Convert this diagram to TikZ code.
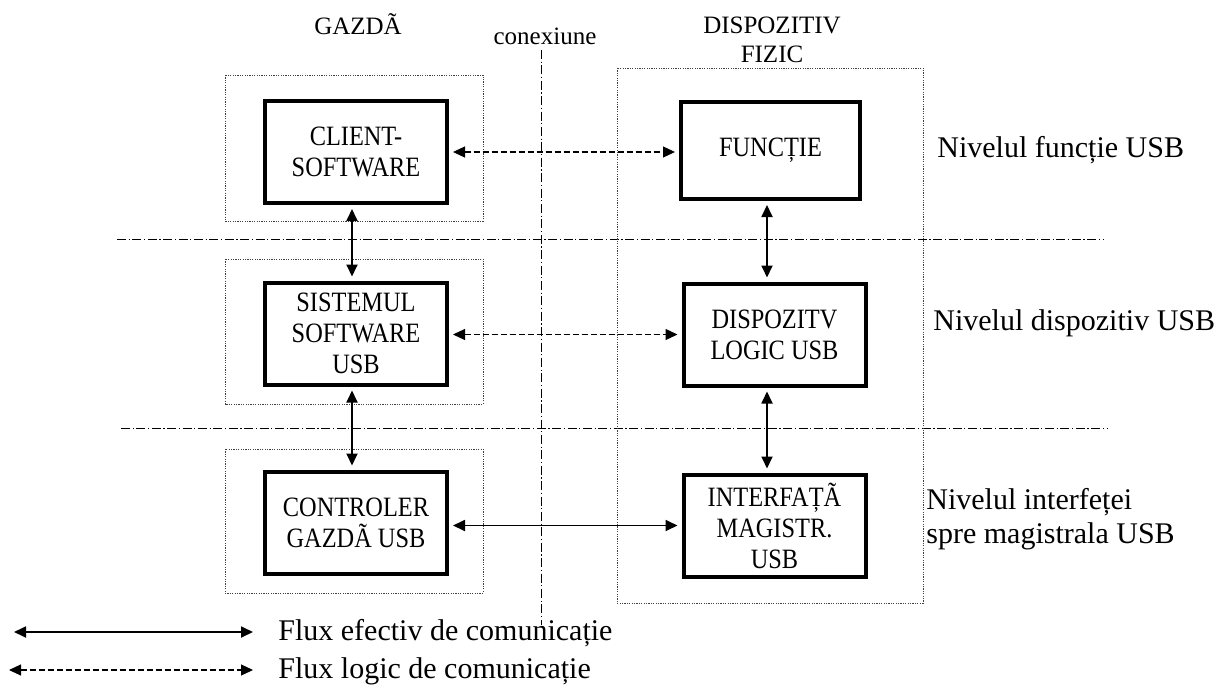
\documentclass[tikz,border=0pt]{standalone}
\usepackage{fontspec}
\setmainfont{Liberation Serif}
\newfontfamily\blokfont[FakeStretch=0.87]{Liberation Serif}
\usetikzlibrary{arrows.meta}

\begin{document}
\begin{tikzpicture}[x=0.5pt,y=-0.5pt,>={Triangle[length=6pt,width=5.5pt]},
    blok/.style={draw=black,line width=2pt,align=center,inner sep=0pt,
        minimum width=91pt,minimum height=51pt,font=\blokfont\fontsize{14}{15.5}\selectfont},
    cadru/.style={draw=black!75,line width=0.5pt,dash pattern=on 0.6pt off 0.6pt},
    nivel/.style={line width=0.5pt,dash pattern=on 4.5pt off 1.3pt on 0.6pt off 1.3pt},
    fluxfizic/.style={<->,line width=0.9pt,shorten >=2pt,shorten <=2pt},
    fluxlogic/.style={<->,line width=0.6pt,dash pattern=on 3pt off 1.5pt,shorten >=2pt,shorten <=2pt},
    antet/.style={font=\fontsize{12.5}{14.5}\selectfont,align=center,inner sep=0pt},
    eticheta/.style={font=\fontsize{15}{17}\selectfont,align=left,inner sep=0pt}]

    \useasboundingbox (0,0) rectangle (1217,691);

    % Level separators and connection line
    \draw[nivel] (117,239) -- (1103,239);
    \draw[nivel] (121,428) -- (1107,428);
    \draw[nivel] (541,50) -- (541,625);

    % Dotted frames
    \draw[cadru] (225,75) rectangle (483,221);
    \draw[cadru] (225,259) rectangle (483,404);
    \draw[cadru] (225,449) rectangle (483,593);
    \draw[cadru] (617,68) rectangle (923,603);

    % Headers
    \node[antet,anchor=base] (GAZDA) at (358,34) {GAZDÃ};
    \node[antet,anchor=base] (CONEX) at (545,44) {conexiune};
    \node[antet,anchor=north] (DISPFIZ) at (772,17) {DISPOZITIV\\FIZIC};

    % Host column
    \node[blok] (CLIENT) at (356,152) {CLIENT-\\SOFTWARE};
    \node[blok] (SISTEMUL) at (356,333.5) {SISTEMUL\\SOFTWARE\\USB};
    \node[blok] (CONTROLER) at (356,522.5) {CONTROLER\\GAZDÃ USB};

    % Device column
    \node[blok,minimum width=89.5pt,minimum height=48.5pt] (FUNCTIE) at (770.5,150.5) {FUNCȚIE};
    \node[blok] (DISPOZ) at (774.5,334.5) {DISPOZITV\\LOGIC USB};
    \node[blok] (INTERF) at (774.5,525.5) {INTERFAȚÃ\\MAGISTR.\\USB};

    % Level labels
    \node[eticheta,anchor=base west] (NIVF) at (937,157) {Nivelul funcție USB};
    \node[eticheta,anchor=base west] (NIVD) at (933,330) {Nivelul dispozitiv USB};
    \node[eticheta,anchor=north west] (NIVI) at (926,488) {Nivelul interfeței\\spre magistrala USB};

    % Logical flows
    \draw[fluxlogic] (CLIENT.east) -- (CLIENT.east -| FUNCTIE.west);
    \draw[fluxlogic] (DISPOZ.west -| SISTEMUL.east) -- (DISPOZ.west);

    % Effective flows
    \draw[fluxfizic] (INTERF.west -| CONTROLER.east) -- (INTERF.west);
    \draw[fluxfizic] ([xshift=-2pt]CLIENT.south) -- ([xshift=-2pt]SISTEMUL.north);
    \draw[fluxfizic] ([xshift=-2pt]SISTEMUL.south) -- ([xshift=-2pt]CONTROLER.north);
    \draw[fluxfizic] ([xshift=-1.75pt]FUNCTIE.south) -- ([xshift=-1.75pt]FUNCTIE.south |- DISPOZ.north);
    \draw[fluxfizic] ([xshift=-3.75pt]DISPOZ.south) -- ([xshift=-3.75pt]INTERF.north);

    % Legend
    \coordinate (EF1) at (10,632);
    \coordinate (EF2) at (257,632);
    \draw[fluxfizic] (EF1) -- (EF2);
    \node[eticheta,anchor=base west] (EFTXT) at (278,640) {Flux efectiv de comunicație};
    \coordinate (LG1) at (5,670);
    \coordinate (LG2) at (257,670);
    \draw[fluxlogic] (LG1) -- (LG2);
    \node[eticheta,anchor=base west] (LGTXT) at (278,678) {Flux logic de comunicație};

\end{tikzpicture}
\end{document}
